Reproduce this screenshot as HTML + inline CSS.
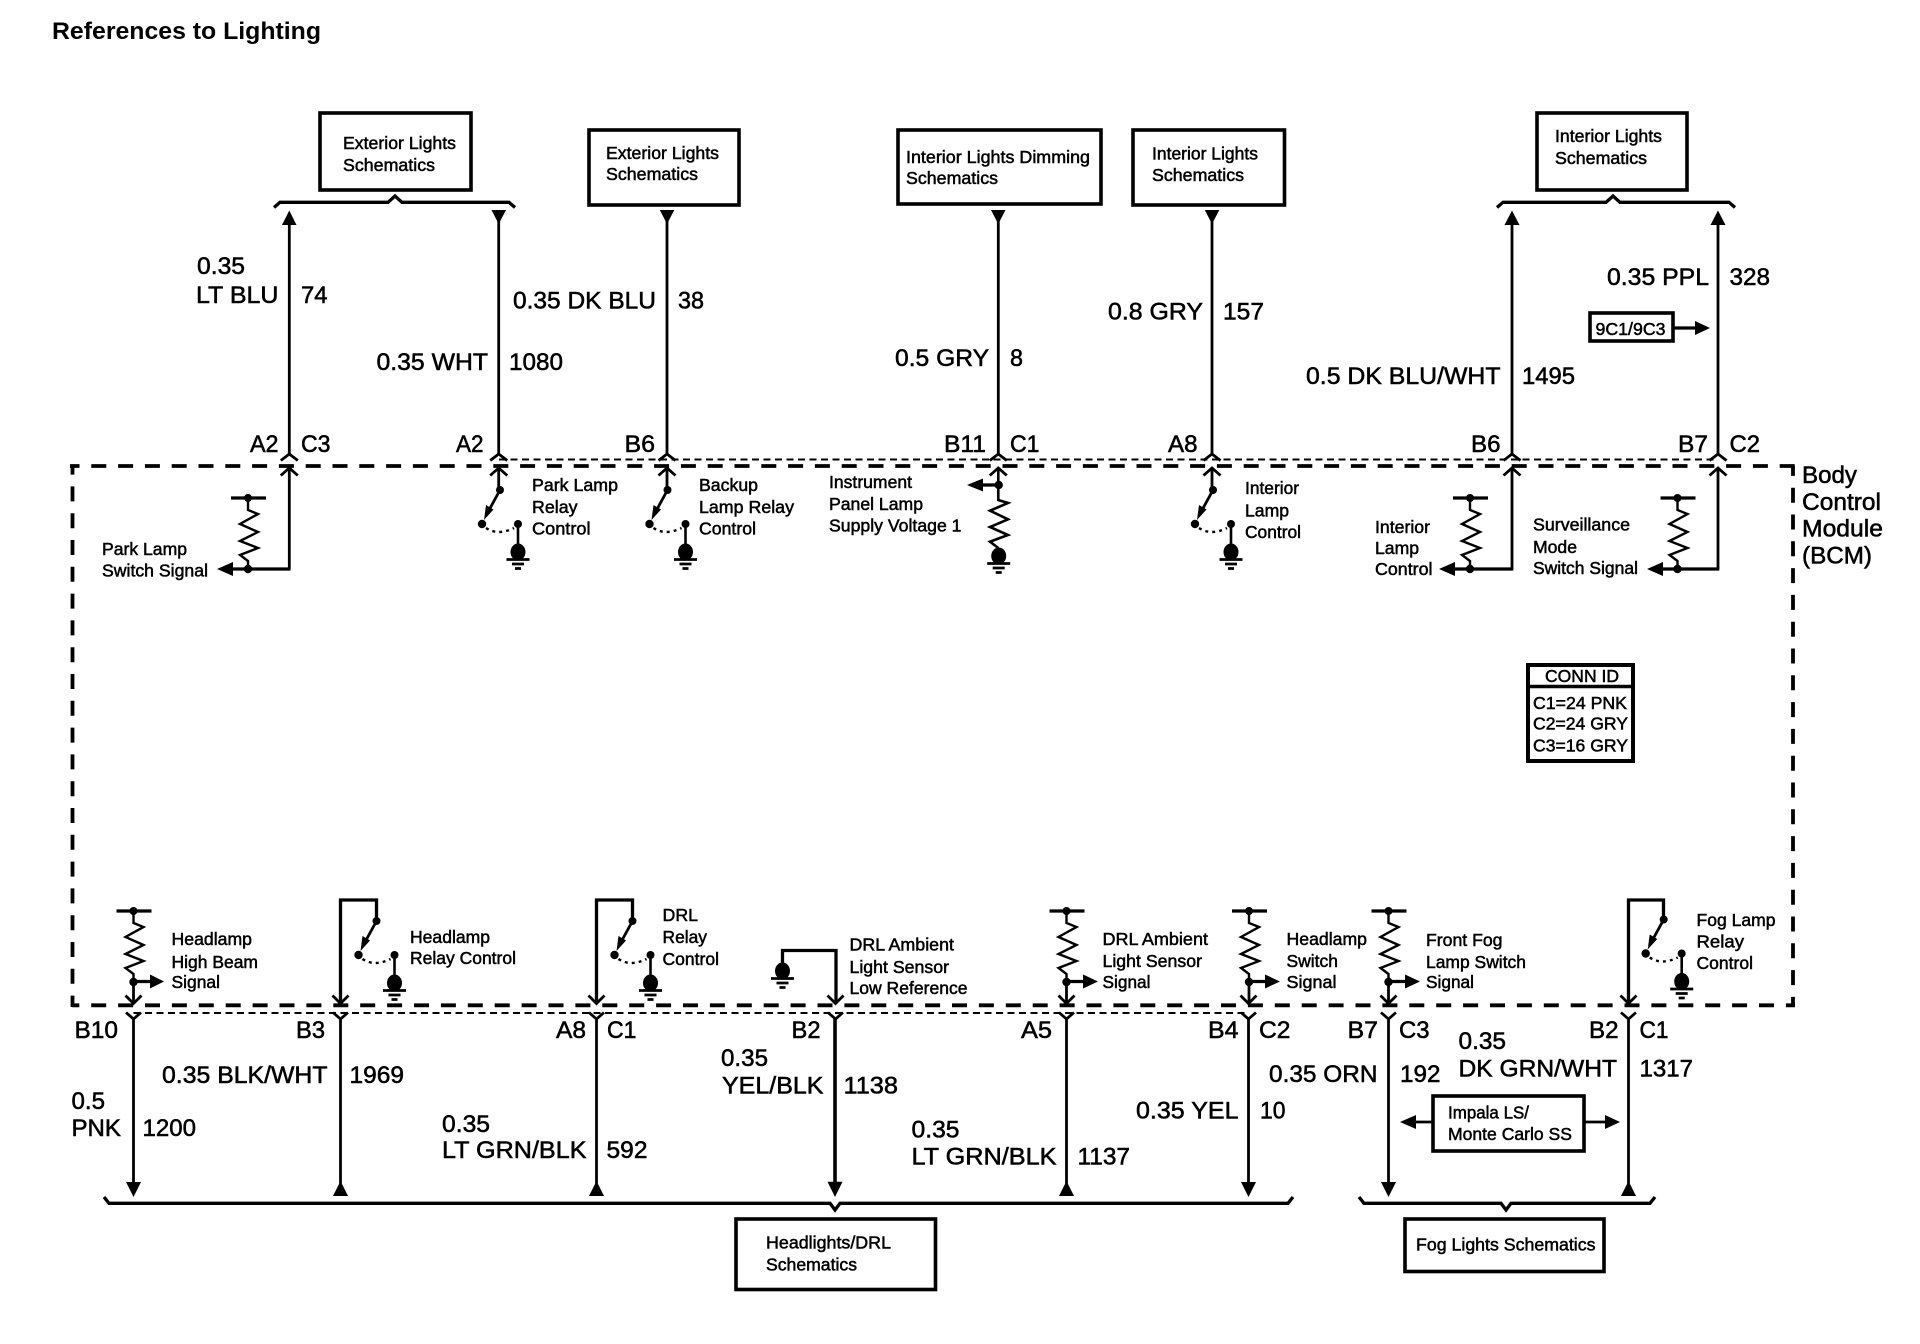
<!DOCTYPE html>
<html><head><meta charset="utf-8"><title>References to Lighting</title>
<style>
html,body{margin:0;padding:0;background:#fff;width:1920px;height:1344px;overflow:hidden}
svg{display:block}
text{font-family:"Liberation Sans",Arial,sans-serif;fill:#000;stroke:#000;stroke-width:.5px}
.s{font-size:17.5px}
.l{font-size:24.5px;stroke-width:.55px}
.t{font-size:24px;font-weight:bold;stroke-width:0}
.w{fill:none;stroke:#000;stroke-width:2.8}
.m{fill:none;stroke:#000;stroke-width:3.3}
.b{fill:#fff;stroke:#000;stroke-width:3.6}
.f{fill:#000;stroke:none}
</style></head><body>
<svg width="1920" height="1344" viewBox="0 0 1920 1344" xmlns="http://www.w3.org/2000/svg">
<defs>
<g id="res"><path class="m" d="M-17 0H18"/><circle class="f" cx="0" cy="0" r="4"/><path fill="none" stroke="#000" stroke-width="2.4" d="M0 0V12L10 16L-8 26L10 34L-8 43L10 50L-8 57L0 63V71"/><circle class="f" cx="0" cy="71" r="4.200"/></g>
<g id="gnd"><ellipse class="f" cx="0" cy="0" rx="7.500" ry="8.500"/><path stroke="#000" stroke-width="2.800" fill="none" d="M-11.500 7.500H11.500M-6 12H6M-3 16.500H3"/></g>
<g id="sw"><circle class="f" cx="0" cy="0" r="4"/><circle class="f" cx="-18" cy="34" r="4.200"/><circle class="f" cx="18" cy="34" r="4"/>
<path fill="none" stroke="#000" stroke-width="2.800" d="M0 0L-12 22"/><path class="f" d="M-16 30L-14 15L-6.500 19.500Z"/>
<path fill="none" stroke="#000" stroke-width="2.400" stroke-dasharray="3 4" d="M-14 38Q-2 46 14 38"/>
<path fill="none" stroke="#000" stroke-width="2.600" d="M18 34V60"/><use href="#gnd" x="18" y="62"/></g>
<g id="ct"><path class="w" d="M-8.500 460.500L0 454L8.500 460.500M-8.500 475.500L0 468L8.500 475.500"/></g>
<g id="cb"><path class="w" d="M-8 995.500L0 1003.500L8 995.500M-7.500 1012.500L0 1019L7.500 1012.500"/></g>
</defs>

<text class="t" x="52" y="39" textLength="269" lengthAdjust="spacingAndGlyphs">References to Lighting</text>

<!-- module outline -->
<g fill="none" stroke="#000" stroke-width="3.800">
<path stroke-dasharray="15 11.800" stroke-dashoffset="5.500" d="M70 466H1795"/>
<path stroke-dasharray="15 11.900" stroke-dashoffset="7.700" d="M72 1005.300H1795"/>
<path stroke-dasharray="15 11.800" stroke-dashoffset="6.400" d="M72.500 466V1007"/>
<path stroke-dasharray="15 11.800" stroke-dashoffset="5.100" d="M1793 466V1007"/>
</g>
<path fill="none" stroke="#000" stroke-width="2" stroke-dasharray="7 4.500" d="M499 459.500H1718M133.500 1013H1248"/>

<!-- top boxes -->
<rect class="b" x="320" y="113" width="151" height="77"/>
<rect class="b" x="589" y="130" width="150" height="75"/>
<rect class="b" x="898" y="130" width="203" height="74"/>
<rect class="b" x="1133" y="130" width="151.500" height="75"/>
<rect class="b" x="1537" y="113" width="150" height="77"/>
<text class="s" x="343" y="149" textLength="113" lengthAdjust="spacingAndGlyphs">Exterior Lights</text>
<text class="s" x="343" y="171" textLength="92" lengthAdjust="spacingAndGlyphs">Schematics</text>
<text class="s" x="606" y="159" textLength="113" lengthAdjust="spacingAndGlyphs">Exterior Lights</text>
<text class="s" x="606" y="180" textLength="92" lengthAdjust="spacingAndGlyphs">Schematics</text>
<text class="s" x="906" y="163" textLength="184" lengthAdjust="spacingAndGlyphs">Interior Lights Dimming</text>
<text class="s" x="906" y="184" textLength="92" lengthAdjust="spacingAndGlyphs">Schematics</text>
<text class="s" x="1152" y="159.500" textLength="106" lengthAdjust="spacingAndGlyphs">Interior Lights</text>
<text class="s" x="1152" y="181" textLength="92" lengthAdjust="spacingAndGlyphs">Schematics</text>
<text class="s" x="1555" y="142" textLength="107" lengthAdjust="spacingAndGlyphs">Interior Lights</text>
<text class="s" x="1555" y="164" textLength="92" lengthAdjust="spacingAndGlyphs">Schematics</text>

<!-- braces -->
<path class="m" d="M274 207.500L280 202.300H388L395 196L402 202.300H509L515 207.500"/>
<path class="m" d="M1497 207.500L1503 202.300H1606L1613 196L1620 202.300H1729L1735 207.500"/>
<path class="m" d="M104 1197L109 1203.300H830L835 1210L840 1203.300H1288L1293 1197"/>
<path class="m" d="M1359 1197L1364 1203.300H1501L1506 1210L1511 1203.300H1650L1655 1197"/>

<!-- top wires -->
<path class="w" d="M289.300 220V454M498.700 215V454M667 215V454M998.300 215V454M1212 215V454M1512 220V454M1718 220V454"/>
<path class="f" d="M289.300 210.500L296.500 225H282Z"/>
<path class="f" d="M491.500 210H506L498.700 224Z"/>
<path class="f" d="M659.800 210H674.300L667 224Z"/>
<path class="f" d="M991 210H1005.500L998.300 224Z"/>
<path class="f" d="M1204.800 210H1219.300L1212 224Z"/>
<path class="f" d="M1512 210.500L1519.500 225H1504.500Z"/>
<path class="f" d="M1718 210.500L1725.500 225H1710.500Z"/>
<use href="#ct" x="289.300"/><use href="#ct" x="498.700"/><use href="#ct" x="667"/><use href="#ct" x="998.300"/><use href="#ct" x="1212"/><use href="#ct" x="1512"/><use href="#ct" x="1718"/>

<!-- top wire labels -->
<text class="l" x="197" y="274" textLength="48" lengthAdjust="spacingAndGlyphs">0.35</text>
<text class="l" x="196" y="303" textLength="82.500" lengthAdjust="spacingAndGlyphs">LT BLU</text>
<text class="l" x="301" y="303" textLength="26.500" lengthAdjust="spacingAndGlyphs">74</text>
<text class="l" x="513" y="308.500" textLength="143" lengthAdjust="spacingAndGlyphs">0.35 DK BLU</text>
<text class="l" x="678" y="308.500" textLength="26" lengthAdjust="spacingAndGlyphs">38</text>
<text class="l" x="376.500" y="370" textLength="111.500" lengthAdjust="spacingAndGlyphs">0.35 WHT</text>
<text class="l" x="509" y="370" textLength="54" lengthAdjust="spacingAndGlyphs">1080</text>
<text class="l" x="895" y="366" textLength="94" lengthAdjust="spacingAndGlyphs">0.5 GRY</text>
<text class="l" x="1010" y="366" textLength="13" lengthAdjust="spacingAndGlyphs">8</text>
<text class="l" x="1108" y="319.500" textLength="95" lengthAdjust="spacingAndGlyphs">0.8 GRY</text>
<text class="l" x="1223" y="319.500" textLength="41" lengthAdjust="spacingAndGlyphs">157</text>
<text class="l" x="1306" y="384" textLength="194.500" lengthAdjust="spacingAndGlyphs">0.5 DK BLU/WHT</text>
<text class="l" x="1522" y="384" textLength="53" lengthAdjust="spacingAndGlyphs">1495</text>
<text class="l" x="1607" y="285" textLength="102" lengthAdjust="spacingAndGlyphs">0.35 PPL</text>
<text class="l" x="1729.500" y="285" textLength="40.500" lengthAdjust="spacingAndGlyphs">328</text>

<!-- top pins -->
<text class="l" x="250" y="452" textLength="28.500" lengthAdjust="spacingAndGlyphs">A2</text>
<text class="l" x="301" y="452" textLength="29.500" lengthAdjust="spacingAndGlyphs">C3</text>
<text class="l" x="456" y="452" textLength="27.500" lengthAdjust="spacingAndGlyphs">A2</text>
<text class="l" x="624.500" y="452" textLength="30.500" lengthAdjust="spacingAndGlyphs">B6</text>
<text class="l" x="944" y="452" textLength="42" lengthAdjust="spacingAndGlyphs">B11</text>
<text class="l" x="1010" y="452" textLength="29.500" lengthAdjust="spacingAndGlyphs">C1</text>
<text class="l" x="1168" y="452" textLength="29.500" lengthAdjust="spacingAndGlyphs">A8</text>
<text class="l" x="1471" y="452" textLength="29.500" lengthAdjust="spacingAndGlyphs">B6</text>
<text class="l" x="1678" y="452" textLength="30" lengthAdjust="spacingAndGlyphs">B7</text>
<text class="l" x="1729.500" y="452" textLength="30.500" lengthAdjust="spacingAndGlyphs">C2</text>

<!-- BCM label -->
<text class="l" x="1802" y="483" textLength="55" lengthAdjust="spacingAndGlyphs">Body</text>
<text class="l" x="1802" y="510" textLength="79" lengthAdjust="spacingAndGlyphs">Control</text>
<text class="l" x="1802" y="536.500" textLength="81" lengthAdjust="spacingAndGlyphs">Module</text>
<text class="l" x="1802" y="563.500" textLength="70" lengthAdjust="spacingAndGlyphs">(BCM)</text>

<!-- 9C1 box -->
<rect class="b" x="1590" y="313" width="83" height="28"/>
<text class="s" x="1595.500" y="335" textLength="70" lengthAdjust="spacingAndGlyphs">9C1/9C3</text>
<path class="m" d="M1673 328H1696"/><path class="f" d="M1695 321L1710 328L1695 335Z"/>

<!-- inner top circuits -->
<use href="#res" x="248" y="498"/>
<path class="w" d="M289.300 468V569"/><path class="m" d="M232 569H290.500"/><path class="f" d="M233 562L217 569L233 576Z"/>
<text class="s" x="102" y="555" textLength="85" lengthAdjust="spacingAndGlyphs">Park Lamp</text>
<text class="s" x="102" y="576.500" textLength="106" lengthAdjust="spacingAndGlyphs">Switch Signal</text>

<path class="w" d="M498.700 468V490M667 468V490M1212 468V490"/>
<use href="#sw" x="500" y="490"/>
<use href="#sw" x="667.500" y="490"/>
<use href="#sw" x="1213" y="490"/>
<text class="s" x="532" y="491" textLength="86" lengthAdjust="spacingAndGlyphs">Park Lamp</text>
<text class="s" x="532" y="513" textLength="45.500" lengthAdjust="spacingAndGlyphs">Relay</text>
<text class="s" x="532" y="534.500" textLength="58.500" lengthAdjust="spacingAndGlyphs">Control</text>
<text class="s" x="699" y="491" textLength="59" lengthAdjust="spacingAndGlyphs">Backup</text>
<text class="s" x="699" y="513" textLength="95" lengthAdjust="spacingAndGlyphs">Lamp Relay</text>
<text class="s" x="699" y="534.500" textLength="57" lengthAdjust="spacingAndGlyphs">Control</text>
<text class="s" x="829" y="488" textLength="83" lengthAdjust="spacingAndGlyphs">Instrument</text>
<text class="s" x="829" y="510" textLength="94" lengthAdjust="spacingAndGlyphs">Panel Lamp</text>
<text class="s" x="829" y="531.500" textLength="132.500" lengthAdjust="spacingAndGlyphs">Supply Voltage 1</text>

<path fill="none" stroke="#000" stroke-width="2.600" d="M998.300 468V500L1008 503L990 510.700L1008 519.300L990 527L1008 535L990 541.700L998.300 548"/>
<circle class="f" cx="998.700" cy="485" r="4.200"/><path class="m" d="M982 485H998"/><path class="f" d="M983 478.500L967 485L983 491.500Z"/>
<use href="#gnd" x="998.700" y="556"/>

<text class="s" x="1245" y="494" textLength="54" lengthAdjust="spacingAndGlyphs">Interior</text>
<text class="s" x="1245" y="516.500" textLength="44" lengthAdjust="spacingAndGlyphs">Lamp</text>
<text class="s" x="1245" y="538" textLength="56" lengthAdjust="spacingAndGlyphs">Control</text>

<use href="#res" x="1470" y="498"/>
<path class="w" d="M1512 468V569"/><path class="m" d="M1454 569H1513.300"/><path class="f" d="M1455 562L1439 569L1455 576Z"/>
<text class="s" x="1375" y="533" textLength="55" lengthAdjust="spacingAndGlyphs">Interior</text>
<text class="s" x="1375" y="554" textLength="44" lengthAdjust="spacingAndGlyphs">Lamp</text>
<text class="s" x="1375" y="575" textLength="57.500" lengthAdjust="spacingAndGlyphs">Control</text>

<use href="#res" x="1677.500" y="498"/>
<path class="w" d="M1718 468V569"/><path class="m" d="M1662 569H1719.300"/><path class="f" d="M1663 562L1647 569L1663 576Z"/>
<text class="s" x="1533" y="530.500" textLength="97" lengthAdjust="spacingAndGlyphs">Surveillance</text>
<text class="s" x="1533" y="553" textLength="44" lengthAdjust="spacingAndGlyphs">Mode</text>
<text class="s" x="1533" y="574" textLength="105" lengthAdjust="spacingAndGlyphs">Switch Signal</text>

<!-- CONN ID -->
<rect x="1528" y="665" width="105" height="96" fill="#fff" stroke="#000" stroke-width="4"/>
<path stroke="#000" stroke-width="3.500" d="M1528 686.500H1633"/>
<text class="s" x="1545" y="682" textLength="74" lengthAdjust="spacingAndGlyphs">CONN ID</text>
<text class="s" x="1533" y="709" textLength="94" lengthAdjust="spacingAndGlyphs">C1=24 PNK</text>
<text class="s" x="1533" y="729.500" textLength="95" lengthAdjust="spacingAndGlyphs">C2=24 GRY</text>
<text class="s" x="1533" y="751.500" textLength="95" lengthAdjust="spacingAndGlyphs">C3=16 GRY</text>

<!-- bottom wires -->
<path class="w" d="M133.500 1019V1185M340.500 1019V1185M596.500 1019V1185M1066.500 1019V1185M1248.500 1019V1185M1388.500 1019V1185M1628.500 1019V1185"/>
<path fill="none" stroke="#000" stroke-width="3.600" d="M835 1019V1185"/>
<path class="f" d="M126 1182H141L133.500 1197Z"/>
<path class="f" d="M340.500 1181L348 1196H333Z"/>
<path class="f" d="M596.500 1181L604 1196H589Z"/>
<path class="f" d="M827.500 1181.700H842.500L835 1197Z"/>
<path class="f" d="M1066.500 1181L1074 1196H1059Z"/>
<path class="f" d="M1241 1182H1256L1248.500 1197Z"/>
<path class="f" d="M1381 1182H1396L1388.500 1197Z"/>
<path class="f" d="M1628.500 1181L1636 1196H1621Z"/>
<use href="#cb" x="133.500"/><use href="#cb" x="340.500"/><use href="#cb" x="596.500"/><use href="#cb" x="835.500"/><use href="#cb" x="1066.500"/><use href="#cb" x="1248.500"/><use href="#cb" x="1388.500"/><use href="#cb" x="1628.500"/>

<!-- inner bottom circuits -->
<use href="#res" x="133.500" y="911"/>
<path class="w" d="M133.500 982V1003"/><path class="m" d="M134 981.500H151"/><path class="f" d="M150 974.500L164 981.500L150 988.500Z"/>
<text class="s" x="171.500" y="945" textLength="80.500" lengthAdjust="spacingAndGlyphs">Headlamp</text>
<text class="s" x="171.500" y="968" textLength="86.500" lengthAdjust="spacingAndGlyphs">High Beam</text>
<text class="s" x="171.500" y="988" textLength="48.500" lengthAdjust="spacingAndGlyphs">Signal</text>

<path class="m" d="M340.500 1003V900H376.500V921"/><use href="#sw" x="376.500" y="921"/>
<text class="s" x="410" y="943" textLength="80" lengthAdjust="spacingAndGlyphs">Headlamp</text>
<text class="s" x="410" y="964" textLength="106" lengthAdjust="spacingAndGlyphs">Relay Control</text>

<path class="m" d="M596.500 1003V900H632.500V921"/><use href="#sw" x="632.500" y="921"/>
<text class="s" x="662.500" y="921" textLength="35.500" lengthAdjust="spacingAndGlyphs">DRL</text>
<text class="s" x="662.500" y="943" textLength="44.500" lengthAdjust="spacingAndGlyphs">Relay</text>
<text class="s" x="662.500" y="965" textLength="56.500" lengthAdjust="spacingAndGlyphs">Control</text>

<use href="#gnd" x="782.500" y="971"/>
<path class="m" d="M782.500 970V950.500H836V1003"/>
<text class="s" x="849.500" y="950.500" textLength="104.500" lengthAdjust="spacingAndGlyphs">DRL Ambient</text>
<text class="s" x="849.500" y="973" textLength="99.500" lengthAdjust="spacingAndGlyphs">Light Sensor</text>
<text class="s" x="849.500" y="994" textLength="118" lengthAdjust="spacingAndGlyphs">Low Reference</text>

<use href="#res" x="1066.500" y="911"/>
<path class="w" d="M1066.500 982V1003"/><path class="m" d="M1067 981.500H1084"/><path class="f" d="M1083 974.500L1098 981.500L1083 988.500Z"/>
<text class="s" x="1102.500" y="945" textLength="105.500" lengthAdjust="spacingAndGlyphs">DRL Ambient</text>
<text class="s" x="1102.500" y="967" textLength="99.500" lengthAdjust="spacingAndGlyphs">Light Sensor</text>
<text class="s" x="1102.500" y="988" textLength="48" lengthAdjust="spacingAndGlyphs">Signal</text>

<use href="#res" x="1249" y="911"/>
<path class="w" d="M1249 982V1003"/><path class="m" d="M1249 981.500H1266"/><path class="f" d="M1265 974.500L1280 981.500L1265 988.500Z"/>
<text class="s" x="1286.500" y="945" textLength="80.500" lengthAdjust="spacingAndGlyphs">Headlamp</text>
<text class="s" x="1286.500" y="967" textLength="51.500" lengthAdjust="spacingAndGlyphs">Switch</text>
<text class="s" x="1286.500" y="988" textLength="50" lengthAdjust="spacingAndGlyphs">Signal</text>

<use href="#res" x="1388.500" y="911"/>
<path class="w" d="M1388.500 982V1003"/><path class="m" d="M1389 981.500H1406"/><path class="f" d="M1405 974.500L1420 981.500L1405 988.500Z"/>
<text class="s" x="1426" y="946" textLength="76.500" lengthAdjust="spacingAndGlyphs">Front Fog</text>
<text class="s" x="1426" y="968" textLength="100" lengthAdjust="spacingAndGlyphs">Lamp Switch</text>
<text class="s" x="1426" y="988" textLength="48" lengthAdjust="spacingAndGlyphs">Signal</text>

<path class="m" d="M1628.500 1003V900H1663.500V920"/><use href="#sw" x="1663.700" y="919.500"/>
<text class="s" x="1696.500" y="926" textLength="79" lengthAdjust="spacingAndGlyphs">Fog Lamp</text>
<text class="s" x="1696.500" y="947.500" textLength="47.500" lengthAdjust="spacingAndGlyphs">Relay</text>
<text class="s" x="1696.500" y="969" textLength="56.500" lengthAdjust="spacingAndGlyphs">Control</text>

<!-- bottom pins -->
<text class="l" x="74.500" y="1038" textLength="43.500" lengthAdjust="spacingAndGlyphs">B10</text>
<text class="l" x="296" y="1038" textLength="29" lengthAdjust="spacingAndGlyphs">B3</text>
<text class="l" x="556" y="1038" textLength="30" lengthAdjust="spacingAndGlyphs">A8</text>
<text class="l" x="607" y="1038" textLength="29.500" lengthAdjust="spacingAndGlyphs">C1</text>
<text class="l" x="791.500" y="1038" textLength="29" lengthAdjust="spacingAndGlyphs">B2</text>
<text class="l" x="1021" y="1038" textLength="31" lengthAdjust="spacingAndGlyphs">A5</text>
<text class="l" x="1208" y="1038" textLength="30.500" lengthAdjust="spacingAndGlyphs">B4</text>
<text class="l" x="1259" y="1038" textLength="31.500" lengthAdjust="spacingAndGlyphs">C2</text>
<text class="l" x="1347.500" y="1038" textLength="30.500" lengthAdjust="spacingAndGlyphs">B7</text>
<text class="l" x="1399" y="1038" textLength="30.500" lengthAdjust="spacingAndGlyphs">C3</text>
<text class="l" x="1589" y="1038" textLength="29.500" lengthAdjust="spacingAndGlyphs">B2</text>
<text class="l" x="1639.500" y="1038" textLength="29" lengthAdjust="spacingAndGlyphs">C1</text>

<!-- bottom wire labels -->
<text class="l" x="71.500" y="1109" textLength="33.500" lengthAdjust="spacingAndGlyphs">0.5</text>
<text class="l" x="71.500" y="1136" textLength="49.500" lengthAdjust="spacingAndGlyphs">PNK</text>
<text class="l" x="142.500" y="1136" textLength="53.500" lengthAdjust="spacingAndGlyphs">1200</text>
<text class="l" x="162" y="1083" textLength="165.500" lengthAdjust="spacingAndGlyphs">0.35 BLK/WHT</text>
<text class="l" x="349.500" y="1083" textLength="54.500" lengthAdjust="spacingAndGlyphs">1969</text>
<text class="l" x="442" y="1132" textLength="48" lengthAdjust="spacingAndGlyphs">0.35</text>
<text class="l" x="442" y="1158" textLength="144.500" lengthAdjust="spacingAndGlyphs">LT GRN/BLK</text>
<text class="l" x="606.500" y="1158" textLength="41" lengthAdjust="spacingAndGlyphs">592</text>
<text class="l" x="721" y="1066" textLength="47" lengthAdjust="spacingAndGlyphs">0.35</text>
<text class="l" x="722" y="1093.500" textLength="101.500" lengthAdjust="spacingAndGlyphs">YEL/BLK</text>
<text class="l" x="843.500" y="1093.500" textLength="54.500" lengthAdjust="spacingAndGlyphs">1138</text>
<text class="l" x="911.500" y="1137.500" textLength="48" lengthAdjust="spacingAndGlyphs">0.35</text>
<text class="l" x="911.500" y="1164.500" textLength="145" lengthAdjust="spacingAndGlyphs">LT GRN/BLK</text>
<text class="l" x="1077.500" y="1164.500" textLength="52.500" lengthAdjust="spacingAndGlyphs">1137</text>
<text class="l" x="1136" y="1118.500" textLength="102.500" lengthAdjust="spacingAndGlyphs">0.35 YEL</text>
<text class="l" x="1260" y="1118.500" textLength="25.500" lengthAdjust="spacingAndGlyphs">10</text>
<text class="l" x="1269" y="1082" textLength="108.500" lengthAdjust="spacingAndGlyphs">0.35 ORN</text>
<text class="l" x="1400" y="1082" textLength="40.500" lengthAdjust="spacingAndGlyphs">192</text>
<text class="l" x="1458.500" y="1049" textLength="47.500" lengthAdjust="spacingAndGlyphs">0.35</text>
<text class="l" x="1458.500" y="1076.500" textLength="158.500" lengthAdjust="spacingAndGlyphs">DK GRN/WHT</text>
<text class="l" x="1639.500" y="1076.500" textLength="53.500" lengthAdjust="spacingAndGlyphs">1317</text>

<!-- Impala box -->
<rect class="b" x="1433" y="1096" width="151" height="55"/>
<text class="s" x="1448" y="1118.500" textLength="81" lengthAdjust="spacingAndGlyphs">Impala LS/</text>
<text class="s" x="1448" y="1140" textLength="124" lengthAdjust="spacingAndGlyphs">Monte Carlo SS</text>
<path class="w" d="M1415 1122H1433M1584 1122H1606"/>
<path class="f" d="M1416 1115L1400 1122L1416 1129Z"/>
<path class="f" d="M1605 1115L1620 1122L1605 1129Z"/>

<!-- bottom boxes -->
<rect class="b" x="736" y="1219" width="199.500" height="70.500"/>
<text class="s" x="766" y="1248.500" textLength="125" lengthAdjust="spacingAndGlyphs">Headlights/DRL</text>
<text class="s" x="766" y="1270.500" textLength="91" lengthAdjust="spacingAndGlyphs">Schematics</text>
<rect class="b" x="1405" y="1219" width="199" height="52.500"/>
<text class="s" x="1416" y="1250.500" textLength="179.500" lengthAdjust="spacingAndGlyphs">Fog Lights Schematics</text>
</svg>
</body></html>
